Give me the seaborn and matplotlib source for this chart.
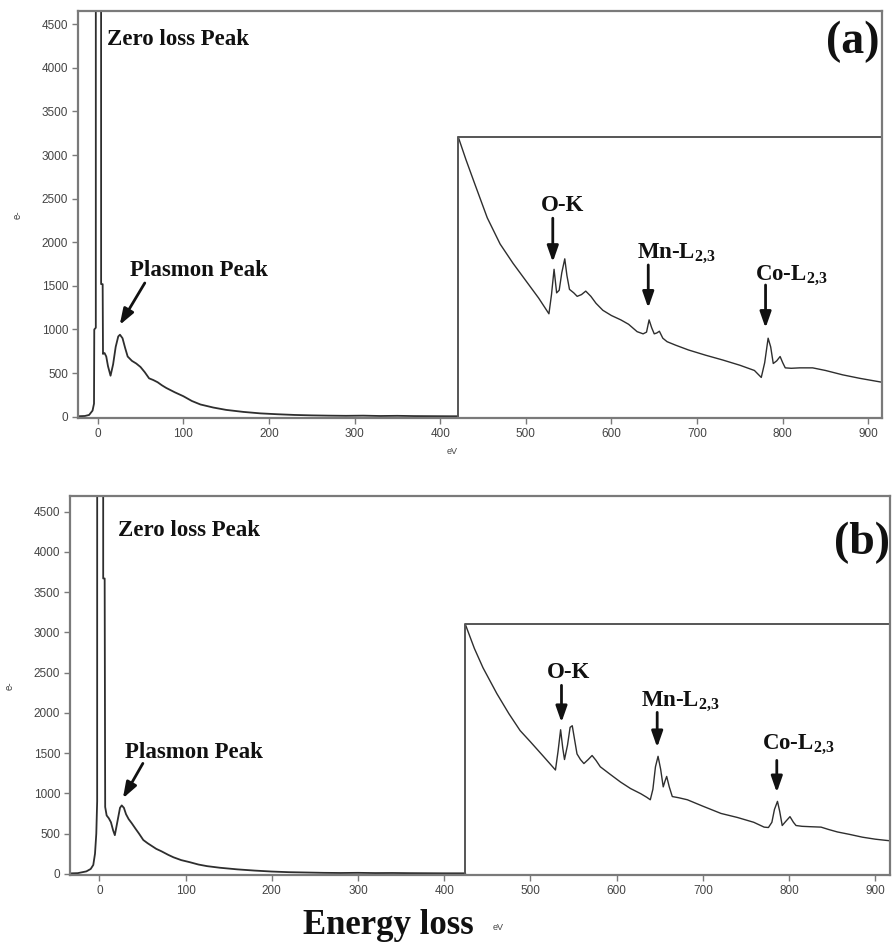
import numpy as np
import pandas as pd
import matplotlib
matplotlib.use("Agg")
import matplotlib.pyplot as plt
import seaborn as sns

# ---- (a) low-loss region: energy (eV) and counts
low_a_ev = [-23, -15, -10, -6, -4.3, -4, -2.2, -2, 3.5, 4, 5.8, 6.2, 8, 10, 12, 15, 18, 21,
            24, 26, 29, 32, 35, 40, 45, 50, 55, 60, 65, 70, 75, 80, 90, 100, 110, 120,
            135, 150, 170, 190, 210, 230, 250, 270, 290, 310, 330, 350, 370, 390, 410, 421]
low_a_ct = [5, 8, 20, 70, 150, 1000, 1020, 60000, 60000, 1520, 1520, 720, 730, 690, 580, 470,
            600, 800, 920, 940, 900, 790, 690, 640, 610, 570, 510, 440, 420, 395, 360, 330,
            280, 235, 180, 140, 105, 78, 55, 38, 28, 20, 15, 12, 10, 12, 8, 10, 7, 6, 5, 5]

# ---- (a) core-loss region (displayed magnified)
core_a_ev = [421, 430, 440, 455, 470, 485, 500, 515, 527, 530, 533, 536, 539, 542, 545.5,
             548, 551, 556, 560, 565, 570, 576, 582, 590, 600, 611, 620, 630, 637, 641, 644,
             647, 650, 653, 656, 660, 665, 675, 690, 710, 730, 750, 767, 775, 779, 783, 786,
             789, 793, 797, 800, 803, 810, 820, 835, 850, 870, 890, 916]
core_a_ct = [3210, 2950, 2680, 2280, 1980, 1760, 1560, 1360, 1180, 1400, 1690, 1420, 1450,
             1650, 1810, 1620, 1460, 1420, 1380, 1400, 1440, 1380, 1300, 1220, 1160, 1110,
             1060, 975, 950, 970, 1110, 1020, 950, 960, 980, 900, 860, 820, 765, 705, 650,
             590, 530, 450, 620, 900, 800, 610, 640, 690, 620, 560, 555, 560, 560, 530, 480,
             440, 395]

# ---- (b) low-loss region
low_b_ev = [-34, -25, -15, -10, -7, -5, -3.5, -2.5, -2, 4, 4.5, 6.2, 6.8, 8.5, 11, 13.5, 16,
            18, 21, 24, 26, 28.5, 31, 34, 37.5, 42, 46, 51, 56, 61, 66, 72, 80, 86, 95, 105,
            115, 125, 140, 160, 180, 200, 220, 240, 260, 280, 300, 320, 340, 360, 380, 400,
            424.5]
low_b_ct = [5, 8, 30, 60, 110, 250, 500, 900, 60000, 60000, 3670, 3670, 830, 725, 690, 640,
            540, 480, 650, 820, 850, 820, 740, 680, 630, 560, 500, 420, 380, 345, 310, 280,
            235, 205, 170, 144, 115, 95, 75, 55, 40, 28, 20, 16, 12, 10, 12, 9, 10, 8, 7, 6, 6]

# ---- (b) core-loss region (displayed magnified)
core_b_ev = [424.5, 435, 445, 461, 475, 488, 500, 515, 529, 532, 535, 537.5, 539.5, 543, 546,
             548.5, 551, 554, 558, 562, 567, 571.5, 576, 581, 592, 604.5, 616, 628, 635, 639,
             642, 645, 648, 651, 654, 656, 658, 661, 664.5, 672, 682, 700, 721, 740, 759, 771,
             776, 780, 783, 786.5, 789, 792, 796, 801, 805, 808, 815, 825, 837, 846, 856, 870,
             885, 900, 917]
core_b_ct = [3100, 2800, 2560, 2240, 1990, 1780, 1640, 1460, 1290, 1520, 1790, 1560, 1420,
             1600, 1820, 1840, 1680, 1490, 1420, 1370, 1420, 1470, 1410, 1330, 1240, 1140,
             1060, 995, 950, 920, 1050, 1330, 1460, 1300, 1080, 1150, 1210, 1080, 960, 945,
             920, 840, 750, 700, 640, 580, 575, 640, 800, 900, 780, 600, 650, 710, 640, 600,
             590, 585, 580, 550, 520, 490, 455, 430, 410]

# magnified-window frame: (left edge eV, top count)
window_a = (421, 3210)
window_b = (424.5, 3100)

x_ticks = list(range(0, 1000, 100))
y_ticks = list(range(0, 5000, 500))

sns.set_theme(style="ticks")
plt.rcParams["font.family"] = ["Liberation Sans Narrow", "Liberation Sans", "DejaVu Sans"]
plt.rcParams["mathtext.fontset"] = "custom"
plt.rcParams["mathtext.bf"] = "Liberation Serif:bold"
plt.rcParams["mathtext.rm"] = "Liberation Serif:bold"

SERIF = ["Liberation Serif", "DejaVu Serif"]
LINE = "#2e2e2e"
FRAME = "#7a7a7a"

fig = plt.figure(figsize=(8.92, 9.51), dpi=100)
ax_a = fig.add_axes([78 / 892, 1 - 418 / 951, (882 - 78) / 892, (418 - 11) / 951])
ax_b = fig.add_axes([70 / 892, 1 - 875 / 951, (890 - 70) / 892, (875 - 496) / 951])


def draw_panel(ax, low_ev, low_ct, core_ev, core_ct, window, xlim, ylim):
    low = pd.DataFrame({"eV": low_ev, "counts": low_ct})
    core = pd.DataFrame({"eV": core_ev, "counts": core_ct})
    sns.lineplot(data=low, x="eV", y="counts", ax=ax, color=LINE, lw=1.3,
                 estimator=None, sort=False)
    sns.lineplot(data=core, x="eV", y="counts", ax=ax, color=LINE, lw=1.0,
                 estimator=None, sort=False)
    edge, top = window
    ax.plot([edge, edge, xlim[1] + 10], [0, top, top], color="#555555", lw=1.4,
            clip_on=True)
    ax.set_xlim(*xlim)
    ax.set_ylim(*ylim)
    ax.set_xticks(x_ticks)
    ax.set_yticks(y_ticks)
    ax.set_xlabel("")
    ax.set_ylabel("e-", fontsize=7, color="#444444", labelpad=14)
    ax.tick_params(axis="both", direction="out", length=4, width=1, color=FRAME,
                   labelsize=8.5, labelcolor="#444444", pad=3)
    for s in ax.spines.values():
        s.set_visible(True)
        s.set_color(FRAME)
        s.set_linewidth(1.6)


draw_panel(ax_a, low_a_ev, low_a_ct, core_a_ev, core_a_ct, window_a, (-23, 916), (-15, 4652))
draw_panel(ax_b, low_b_ev, low_b_ct, core_b_ev, core_b_ct, window_b, (-34, 917), (-15, 4695))

text_kw = dict(fontsize=16.5, fontweight="bold", family=SERIF, color="#111111")
arrow_kw = dict(arrowstyle="-|>,head_length=0.8,head_width=0.28", color="#111111", lw=2.0,
                shrinkA=0, shrinkB=0)
MN = r"Mn-L$_{\mathbf{2{,}3}}$"
CO = r"Co-L$_{\mathbf{2{,}3}}$"

# panel (a) annotations
ax_a.text(10.5, 4320, "Zero loss Peak", ha="left", va="center", **text_kw)
ax_a.text(0.997, 0.925, "(a)", transform=ax_a.transAxes, ha="right", va="center",
          fontsize=33, fontweight="bold", family=SERIF, color="#111111")
ax_a.text(37.4, 1680, "Plasmon Peak", ha="left", va="center", **text_kw)
ax_a.annotate("", xy=(25.7, 1052), xytext=(55, 1533), arrowprops=arrow_kw)
ax_a.text(543, 2425, "O-K", ha="center", va="center", **text_kw)
ax_a.annotate("", xy=(531.5, 1773), xytext=(531.5, 2276), arrowprops=arrow_kw)
ax_a.text(629.7, 1877, MN, ha="left", va="center", **text_kw)
ax_a.annotate("", xy=(643, 1247), xytext=(643, 1740), arrowprops=arrow_kw)
ax_a.text(767.5, 1625, CO, ha="left", va="center", **text_kw)
ax_a.annotate("", xy=(780, 1017), xytext=(780, 1510), arrowprops=arrow_kw)

# panel (b) annotations
ax_b.text(21.5, 4270, "Zero loss Peak", ha="left", va="center", **text_kw)
ax_b.text(1.0, 0.875, "(b)", transform=ax_b.transAxes, ha="right", va="center",
          fontsize=33, fontweight="bold", family=SERIF, color="#111111")
ax_b.text(29.6, 1509, "Plasmon Peak", ha="left", va="center", **text_kw)
ax_b.annotate("", xy=(27.3, 937), xytext=(50.5, 1372), arrowprops=arrow_kw)
ax_b.text(544, 2504, "O-K", ha="center", va="center", **text_kw)
ax_b.annotate("", xy=(536, 1882), xytext=(536, 2342), arrowprops=arrow_kw)
ax_b.text(627.7, 2143, MN, ha="left", va="center", **text_kw)
ax_b.annotate("", xy=(647, 1571), xytext=(647, 2006), arrowprops=arrow_kw)
ax_b.text(769, 1608, CO, ha="left", va="center", **text_kw)
ax_b.annotate("", xy=(785.7, 1011), xytext=(785.7, 1409), arrowprops=arrow_kw)

# axis unit labels
fig.text(452 / 892, 1 - 452 / 951, "eV", fontsize=6.5, color="#444444", ha="center", va="center")
fig.text(388 / 892, 1 - 925 / 951, "Energy loss", fontsize=25, fontweight="bold",
         family=SERIF, color="#111111", ha="center", va="center")
fig.text(498 / 892, 1 - 927 / 951, "eV", fontsize=6.5, color="#444444", ha="center", va="center")

fig.savefig("out.png", dpi=100)
